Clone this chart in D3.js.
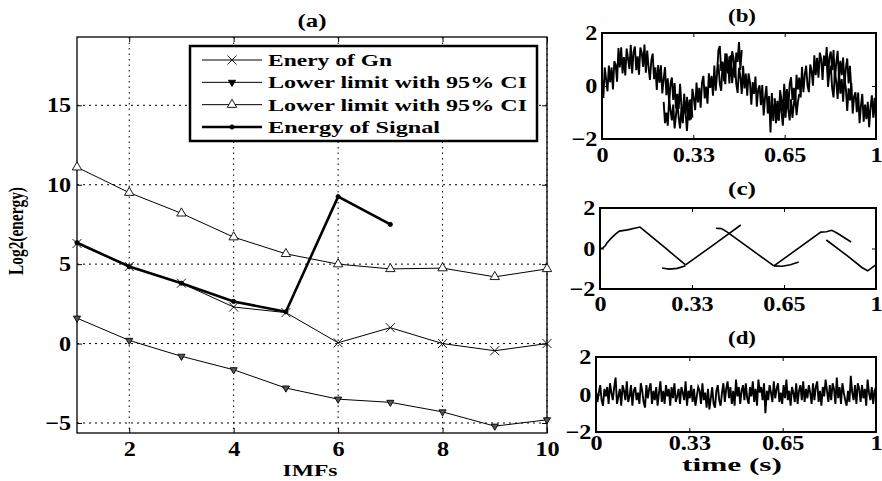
<!DOCTYPE html>
<html>
<head>
<meta charset="utf-8">
<script src="https://cdn.jsdelivr.net/npm/d3@7"></script>
<style>
  body { margin: 0; background: #fff; }
  svg { display: block; }
</style>
</head>
<body>
<script>
(function (d3) {
  'use strict';

  // ---------- panel (a) data ----------
  const imfs = [1, 2, 3, 4, 5, 6, 7, 8, 9, 10];
  const gnEnergy = [6.3, 4.85, 3.8, 2.3, 1.95, 0.05, 1.0, 0.0, -0.45, 0.0];
  const lowerCI = [1.6, 0.2, -0.8, -1.65, -2.8, -3.5, -3.7, -4.3, -5.2, -4.8];
  const upperCI = [11.1, 9.5, 8.2, 6.7, 5.65, 5.0, 4.7, 4.75, 4.2, 4.7];
  const signalEnergy = [6.35, 4.85, 3.8, 2.65, 2.0, 9.25, 7.5];
  const legendLabels = ['Enery of Gn', 'Lower limit with 95% CI', 'Lower limit with 95% CI', 'Energy of Signal'];
  const xTicksA = [2, 4, 6, 8, 10];
  const yTicksA = [-5, 0, 5, 10, 15];

  // ---------- panels (b)-(d) data ----------
  const timeTicks = [0, 0.3333, 0.6667, 1];
  const timeTickLabels = ['0', '0.33', '0.65', '1'];
  const ampTicks = [-2, 0, 2];
  const sampleStep = 0.005;

  // (b) noisy signal, sampled every 5 ms, in pieces
  const sigStarts = [0, 0.225, 0.31, 0.42, 0.63, 0.63, 0.82];
  const sigPart1 = [0.3, -0.45, 0.7, 0.25, -0.2, 0.77, 0.14, 0.7, -0.13, 0.93,
    0.8, 0.16, 1.43, 0.7, 1.46, 0.47, 1.09, 0.4, 1.41, 1.03,
    0.64, 1.55, 0.47, 1.28, 1.49, 0.6, 1.12, 0.43, 1.45, 1.26,
    0.72, 1.56, 0.5, 1.34, 0.69, 0.23, 0.97, 1.22, 0.26, 0.7,
    -0.15, 0.79, 0.13, 0.78, -0.28, 0.26, 0.71, -0.35, 0.29, -0.66,
    0.08, 0.32, -0.53, 0.11, -0.85, -0.3, -0.86, 0.08, -0.77, -1.13,
    -0.29, -1.05, -0.51];
  const sigPart2 = [-0.6, -1.4, -1.0, -1.5, -0.5, -0.9, -1.3, -0.7, -1.6, -1.1, -0.6, -1.2, -1.6, -0.8,
    -1.4, -0.6, -1.0, -1.7, -0.9, -1.3, -0.5, -1.2];
  const sigPart3 = [-0.41, -1.06, -0.51, -1.26, -0.11, -0.46, -0.91, 0.13, -0.62, -0.07,
    -0.82, 0.13, 0.38, -0.47, -0.02, -0.67, 0.48, -0.07, 0.38, -0.37,
    0.77, -0.18, 0.47, 0.82, 0.07, -0.18, 0.87, 0.62, 0.07, 1.22,
    0.47, 1.12, 0.37, 1.31, 1.06, 0.31, 1.26, 0.91, 1.66, 0.61, 1.36];
  const sigPart4 = [0.5, 1.36, 1.51, 0.57, 0.92, 0.18, 1.23, 0.59, 0.95, 0.1,
    1.16, 0.11, 0.67, 0.92, 0.08, -0.26, 0.69, 0.35, -0.3, 0.76,
    -0.09, 0.47, -0.37, 0.48, 0.14, -0.71, 0.15, -0.3, 0.36, -0.78,
    -0.13, 0.03, -0.72, 0.04, -1.11, -0.45, 0.0, -1.04, -0.38, -1.75,
    -0.27, -1.32, -0.66];
  const sigPart5 = [-0.46, -1.11, -0.56, -1.31, -0.16, -0.52, -0.97, 0.08, -0.67, -0.12,
    -0.87, 0.08, 0.33, -0.52, -0.07, -0.73, 0.42, -0.13, 0.32, -0.43,
    0.72, -0.23, 0.42, 0.77, 0.02, -0.23, 0.81, 0.56, 0.01, 1.16,
    0.41, 1.06, 0.31, 1.26, 1.01, 0.23, 1.15, 0.76, 1.47, 0.38,
    1.09, 1.3, 0.6, 1.36, 0.22, 0.87, 1.33, 0.29, 0.95, 0.41,
    1.07, 0.02, 0.68, 1.04, 0.1, 0.76, -0.18];
  const sigPart6 = [-0.5, -1.4, -0.9, -1.3, -0.4, -1.0, -1.5, -0.6, -1.2, -0.3, -0.9, -1.3, -0.5, -1.2,
    -0.7, -0.3, -1.1, -0.6, -0.3];
  const sigPart7 = [1.02, -0.03, 0.52, 0.77, -0.08, -0.43, 0.52, 0.17, -0.49, 0.56,
    -0.29, 0.26, -0.59, 0.26, -0.09, -0.94, -0.09, -0.54, 0.11, -1.04,
    -0.39, -0.24, -0.99, -0.25, -1.4, -0.75, -0.3, -1.35, -0.7, -1.25,
    -0.6, -1.55, -0.8, -0.35, -1.2, -0.45, -1.3];
  const sigParts = [sigPart1, sigPart2, sigPart3, sigPart4, sigPart5, sigPart6, sigPart7];

  // (c) extracted mode, pieces of [time, value]
  const modePart1 = [[0, 0.0], [0.01, 0.02], [0.02, 0.15], [0.025, 0.27], [0.04, 0.5], [0.055, 0.7],
    [0.07, 0.86], [0.1, 0.92], [0.125, 1.0], [0.145, 1.06], [0.23, 0.1], [0.31, -0.81]];
  const modePart2 = [[0.225, -0.96], [0.25, -1.02], [0.28, -0.98], [0.31, -0.85]];
  const modePart3 = [[0.31, -0.81], [0.41, 0.17], [0.51, 1.16]];
  const modePart4 = [[0.42, 1.0], [0.44, 0.98], [0.46, 0.82], [0.63, -0.86]];
  const modePart5 = [[0.63, -0.86], [0.8, 0.81], [0.82, 0.83], [0.84, 0.9], [0.86, 0.75], [0.91, 0.32]];
  const modePart6 = [[0.63, -0.86], [0.66, -0.88], [0.69, -0.8], [0.72, -0.67]];
  const modePart7 = [[0.82, 0.42], [0.9, -0.4], [0.95, -0.95], [0.97, -1.1], [1.0, -0.8]];
  const modeParts = [modePart1, modePart2, modePart3, modePart4, modePart5, modePart6, modePart7];

  // (d) residual noise, sampled every 5 ms
  const noise = [
    0.2, -0.4, 0.1, 0.5, -0.3, -0.6, 0.3, -0.1, 0.4, -0.5,
    0.6, 0.1, -0.3, 0.4, 0.9, -0.5, -0.1, 0.3, -0.6, 0.5,
    0.2, -0.3, 0.7, -0.4, -0.1, 0.5, -0.6, 0.2, 0.4, -0.3,
    0.1, -0.5, 0.6, 0.2, -0.4, -0.7, 0.5, -0.2, 0.3, 0.6,
    -0.5, 0.2, -0.3, 0.4, -0.6, 0.1, 0.7, -0.4, 0.2, -0.5,
    0.5, -0.1, 0.3, -0.6, 0.4, -0.2, 0.6, -0.4, -0.1, 0.3,
    -0.5, 0.4, 0.1, -0.3, 0.7, -0.6, 0.2, -0.2, 0.5, -0.4,
    0.3, -0.6, -0.1, 0.4, 0.2, -0.5, 0.6, -0.3, 0.1, -0.7,
    0.3, -0.8, -0.2, 0.4, -0.5, -0.7, 0.2, 0.5, -0.3, -0.6,
    0.1, 0.6, -0.4, 0.3, 0.7, -0.2, 0.4, -0.5, 0.2, -0.6,
    0.8, -0.1, 0.4, -0.5, 0.2, 0.5, -0.3, 0.6, -0.2, -0.5,
    0.4, -0.1, 0.7, -0.4, 0.3, -0.6, 0.8, 0.1, 0.4, -0.3,
    0.6, -1.0, 0.2, -0.3, 0.5, 0.1, -0.4, 0.7, -0.2, 0.3,
    0.6, -0.4, 0.1, -0.5, 0.5, -0.2, 0.8, -0.3, 0.2, -0.6,
    0.4, 0.1, -0.4, 0.6, -0.5, 0.2, 0.5, -0.3, 0.7, -0.4,
    0.3, -0.2, 0.5, 0.1, -0.5, 0.6, -0.3, 0.4, 0.7, -0.4,
    0.2, -0.6, 0.4, -0.1, 0.8, 0.2, -0.4, 0.5, -0.3, 0.6,
    0.3, -0.5, 0.9, -0.2, 0.4, -0.5, 0.6, 0.1, -0.3, -0.6,
    0.2, -0.4, 1.0, 0.1, -0.3, 0.5, -0.5, 0.6, 0.3, -0.4,
    0.5, -0.2, 0.3, -0.6, 0.8, 0.1, -0.3, 0.4, -0.5, 0.2,
    0.4
  ];

  // ---------- setup ----------
  const width = 882;
  const height = 481;
  const serif = '"Liberation Serif", "Times New Roman", serif';

  const svg = d3.select('body')
    .append('svg')
    .attr('width', width)
    .attr('height', height);

  // bold serif text squeezed into the width it has in the original figure
  const label = (g, text, x, y, size, len, anchor) => {
    g.append('text')
      .attr('x', x)
      .attr('y', y)
      .attr('text-anchor', anchor || 'middle')
      .attr('font-family', serif)
      .attr('font-weight', 'bold')
      .attr('font-size', size)
      .attr('textLength', len)
      .attr('lengthAdjust', 'spacingAndGlyphs')
      .attr('fill', '#000')
      .text(text);
  };

  const styleAxis = (g, size, sx) => {
    g.attr('font-family', serif)
      .attr('font-size', size)
      .attr('font-weight', 'bold');
    g.select('.domain').remove();
    g.selectAll('.tick line').attr('stroke', '#000');
    g.selectAll('.tick text').attr('fill', '#000').attr('transform', `scale(${sx},1)`);
  };

  // ---------- panel (a) ----------
  const boxA = { left: 77, right: 547, top: 37, bottom: 433 };
  const xA = d3.scaleLinear().domain([1, 10]).range([boxA.left, boxA.right]);
  const yA = d3.scaleLinear().domain([-5.63, 19.3]).range([boxA.bottom, boxA.top]);

  const gA = svg.append('g');

  gA.append('g')
    .selectAll('line')
    .data(xTicksA)
    .join('line')
    .attr('x1', (d) => xA(d))
    .attr('x2', (d) => xA(d))
    .attr('y1', boxA.top)
    .attr('y2', boxA.bottom)
    .attr('stroke', '#000')
    .attr('stroke-width', 1)
    .attr('stroke-dasharray', '1.5,4');

  gA.append('g')
    .selectAll('line')
    .data(yTicksA)
    .join('line')
    .attr('x1', boxA.left)
    .attr('x2', boxA.right)
    .attr('y1', (d) => yA(d))
    .attr('y2', (d) => yA(d))
    .attr('stroke', '#000')
    .attr('stroke-width', 1)
    .attr('stroke-dasharray', '2,4');

  gA.append('g')
    .attr('transform', `translate(0,${boxA.bottom})`)
    .call(d3.axisBottom(xA).tickValues(xTicksA).tickSize(-5).tickPadding(8).tickFormat(d3.format('d')))
    .call((g) => styleAxis(g, 20.5, 1.18));
  gA.append('g')
    .attr('transform', `translate(0,${boxA.top})`)
    .call(d3.axisTop(xA).tickValues(xTicksA).tickSize(-5).tickFormat(''))
    .call((g) => styleAxis(g, 20.5, 1.18));
  gA.append('g')
    .attr('transform', `translate(${boxA.left},0)`)
    .call(d3.axisLeft(yA).tickValues(yTicksA).tickSize(-5).tickPadding(5).tickFormat(d3.format('d')))
    .call((g) => styleAxis(g, 20.5, 1.18));
  gA.append('g')
    .attr('transform', `translate(${boxA.right},0)`)
    .call(d3.axisRight(yA).tickValues(yTicksA).tickSize(-5).tickFormat(''))
    .call((g) => styleAxis(g, 20.5, 1.18));

  gA.append('rect')
    .attr('x', boxA.left)
    .attr('y', boxA.top)
    .attr('width', boxA.right - boxA.left)
    .attr('height', boxA.bottom - boxA.top)
    .attr('fill', 'none')
    .attr('stroke', '#000')
    .attr('stroke-width', 1.3);

  const lineA = d3.line()
    .x((d, i) => xA(imfs[i]))
    .y((d) => yA(d));

  const xMark = 'M-4.5,-4.5L4.5,4.5M-4.5,4.5L4.5,-4.5';
  const triUp = d3.symbol(d3.symbolTriangle, 38)();
  const triDown = d3.symbol(d3.symbolTriangle, 22)();
  const dot = d3.symbol(d3.symbolCircle, 14)();

  const series = [
    { values: gnEnergy, width: 1, marker: xMark, fill: 'none', rotate: 0 },
    { values: lowerCI, width: 1, marker: triDown, fill: '#555', rotate: 180 },
    { values: upperCI, width: 1, marker: triUp, fill: '#fff', rotate: 0 },
    { values: signalEnergy, width: 2.6, marker: dot, fill: '#000', rotate: 0 },
  ];

  series.forEach((s) => {
    gA.append('path')
      .attr('d', lineA(s.values))
      .attr('fill', 'none')
      .attr('stroke', '#000')
      .attr('stroke-width', s.width);
    gA.append('g')
      .selectAll('path')
      .data(s.values)
      .join('path')
      .attr('transform', (d, i) => `translate(${xA(imfs[i])},${yA(d)}) rotate(${s.rotate})`)
      .attr('d', s.marker)
      .attr('fill', s.fill)
      .attr('stroke', '#000')
      .attr('stroke-width', 0.9);
  });

  // legend
  const legend = gA.append('g');
  legend.append('rect')
    .attr('x', 190)
    .attr('y', 46)
    .attr('width', 347)
    .attr('height', 95)
    .attr('fill', '#fff')
    .attr('stroke', '#000')
    .attr('stroke-width', 2.5);

  const legendY = d3.scalePoint().domain(d3.range(legendLabels.length)).range([60, 127]);
  const legendWidths = [124, 259, 259, 172];
  series.forEach((s, i) => {
    const y = legendY(i);
    legend.append('line')
      .attr('x1', 202)
      .attr('x2', 262)
      .attr('y1', y)
      .attr('y2', y)
      .attr('stroke', '#000')
      .attr('stroke-width', s.width);
    legend.append('path')
      .attr('transform', `translate(232,${y}) rotate(${s.rotate})`)
      .attr('d', s.marker)
      .attr('fill', i === 1 ? '#000' : s.fill)
      .attr('stroke', '#000')
      .attr('stroke-width', 0.9);
    label(legend, legendLabels[i], 268, y + 6, 17.5, legendWidths[i], 'start');
  });

  label(gA, '(a)', 312, 27, 18, 29);
  label(gA, 'IMFs', 310, 476, 17, 55);
  gA.append('text')
    .attr('transform', 'translate(23,231) rotate(-90) scale(1,1.25)')
    .attr('text-anchor', 'middle')
    .attr('font-family', serif)
    .attr('font-weight', 'bold')
    .attr('font-size', 17.5)
    .attr('textLength', 88)
    .attr('lengthAdjust', 'spacingAndGlyphs')
    .attr('fill', '#000')
    .text('Log2(energy)');

  // ---------- panels (b), (c), (d) ----------
  const smallBoxes = [
    { left: 602, right: 876, top: 33, bottom: 139, title: '(b)', titleY: 22, pad: 8 },
    { left: 600, right: 876, top: 208, bottom: 289, title: '(c)', titleY: 195, pad: 7 },
    { left: 596, right: 876, top: 357, bottom: 432, title: '(d)', titleY: 344, pad: 3 },
  ];

  const drawFrame = (b) => {
    const g = svg.append('g');
    const x = d3.scaleLinear().domain([0, 1]).range([b.left, b.right]);
    const y = d3.scaleLinear().domain([-2, 2]).range([b.bottom, b.top]);

    g.append('g')
      .attr('transform', `translate(0,${b.bottom})`)
      .call(d3.axisBottom(x).tickValues(timeTicks).tickFormat((d, i) => timeTickLabels[i]).tickSize(-4).tickPadding(b.pad))
      .call((s) => styleAxis(s, 20.5, 1.18));
    g.append('g')
      .attr('transform', `translate(0,${b.top})`)
      .call(d3.axisTop(x).tickValues(timeTicks).tickFormat('').tickSize(-4))
      .call((s) => styleAxis(s, 20.5, 1.18));
    g.append('g')
      .attr('transform', `translate(${b.left},0)`)
      .call(d3.axisLeft(y).tickValues(ampTicks).tickSize(-4).tickPadding(4).tickFormat(d3.format('d')))
      .call((s) => styleAxis(s, 20.5, 1.18));
    g.append('g')
      .attr('transform', `translate(${b.right},0)`)
      .call(d3.axisRight(y).tickValues(ampTicks).tickSize(-4).tickFormat(''))
      .call((s) => styleAxis(s, 20.5, 1.18));

    label(g, b.title, 742, b.titleY, 18, 28);
    return { g, x, y };
  };

  const closeFrame = (g, b) => {
    g.append('rect')
      .attr('x', b.left)
      .attr('y', b.top)
      .attr('width', b.right - b.left)
      .attr('height', b.bottom - b.top)
      .attr('fill', 'none')
      .attr('stroke', '#000')
      .attr('stroke-width', 2);
  };

  // (b)
  {
    const b = smallBoxes[0];
    const { g, x, y } = drawFrame(b);
    const line = d3.line().x((d) => x(d[0])).y((d) => y(d[1]));
    sigParts.forEach((part, k) => {
      const pts = part.map((v, i) => [sigStarts[k] + i * sampleStep, v]);
      g.append('path')
        .attr('d', line(pts))
        .attr('fill', 'none')
        .attr('stroke', '#000')
        .attr('stroke-width', 1.9);
    });
    closeFrame(g, b);
  }

  // (c)
  {
    const b = smallBoxes[1];
    const { g, x, y } = drawFrame(b);
    const line = d3.line().x((d) => x(d[0])).y((d) => y(d[1]));
    modeParts.forEach((part) => {
      g.append('path')
        .attr('d', line(part))
        .attr('fill', 'none')
        .attr('stroke', '#000')
        .attr('stroke-width', 1.6);
    });
    closeFrame(g, b);
  }

  // (d)
  {
    const b = smallBoxes[2];
    const { g, x, y } = drawFrame(b);
    const line = d3.line().x((d, i) => x(i * sampleStep)).y((d) => y(d));
    g.append('path')
      .attr('d', line(noise))
      .attr('fill', 'none')
      .attr('stroke', '#000')
      .attr('stroke-width', 1.9);
    closeFrame(g, b);
    label(g, 'time (s)', 732, 471, 18, 100);
  }

}(d3));
</script>
</body>
</html>
